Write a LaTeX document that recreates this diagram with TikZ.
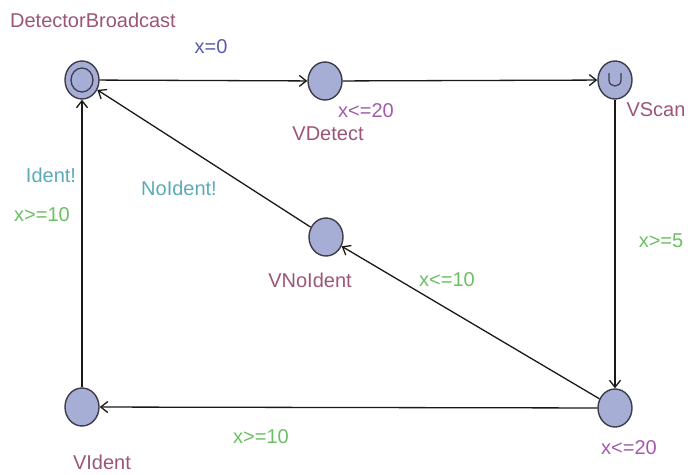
\documentclass[tikz,border=0pt]{standalone}
\usepackage{fontspec}
\setmainfont{Liberation Sans}
\usetikzlibrary{arrows.meta,shapes.geometric}
\definecolor{locfill}{HTML}{A7AED6}
\definecolor{locdraw}{HTML}{3C3C4A}
\definecolor{namecol}{HTML}{9C5578}
\definecolor{invcol}{HTML}{A35AAE}
\definecolor{guardcol}{HTML}{6CBF62}
\definecolor{synccol}{HTML}{5AAAB8}
\definecolor{assigncol}{HTML}{5A5CA8}
\begin{document}
\begin{tikzpicture}[x=1pt,y=-1pt,
  loc/.style={ellipse, draw=locdraw, fill=locfill, line width=1.4pt, minimum width=34pt, minimum height=38pt, inner sep=0pt},
  lbl/.style={font=\fontsize{20}{24}\selectfont, inner sep=0pt, anchor=center},
  namelbl/.style={lbl, text=namecol},
  invlbl/.style={lbl, text=invcol},
  guardlbl/.style={lbl, text=guardcol},
  synclbl/.style={lbl, text=synccol},
  assignlbl/.style={lbl, text=assigncol},
  trans/.style={draw=black!90, line width=1.3pt, -{Straight Barb[length=7pt,width=11pt]}}]
\useasboundingbox (0,0) rectangle (688,474);
% locations
\node[loc] (DB) at (82,80) {};
\draw[locdraw, line width=1.3pt] (DB.center) ellipse [x radius=11pt, y radius=12pt];
\node[loc] (VDetect) at (325,81) {};
\node[loc] (VScan) at (615,80) {};
\draw[locdraw, line width=1.2pt] (609,73) -- (609,80) .. controls (609,88) and (621,88) .. (621,80) -- (621,73);
\node[loc] (VNoIdent) at (326,237) {};
\node[loc] (VIdent) at (82,407) {};
\node[loc] (BR) at (615,408) {};
% transitions
\draw[trans] (DB) -- (VDetect);
\draw[trans] (VDetect) -- (VScan);
\draw[trans] (VScan) -- (BR);
\draw[trans] (BR) -- (VIdent);
\draw[trans] (VIdent) -- (DB);
\draw[trans] (BR) -- (VNoIdent);
\draw[trans] (VNoIdent) -- (DB);
% names
\node[namelbl] (nDB) at (93,20) {DetectorBroadcast};
\node[namelbl] (nVDetect) at (328,134) {VDetect};
\node[namelbl] (nVScan) at (656,110) {VScan};
\node[namelbl] (nVNoIdent) at (310,280) {VNoIdent};
\node[namelbl] (nVIdent) at (102,462) {VIdent};
% invariants
\node[invlbl] (iVDetect) at (366,111) {x<=20};
\node[invlbl] (iBR) at (629,448) {x<=20};
% edge labels
\node[assignlbl] (a1) at (211,47) {x=0};
\node[guardlbl] (g1) at (661,241) {x>=5};
\node[guardlbl] (g2) at (447,280) {x<=10};
\node[guardlbl] (g3) at (261,437) {x>=10};
\node[guardlbl] (g4) at (42,215) {x>=10};
\node[synclbl] (s1) at (51,175) {Ident!};
\node[synclbl] (s2) at (179,188) {NoIdent!};
\end{tikzpicture}
\end{document}
